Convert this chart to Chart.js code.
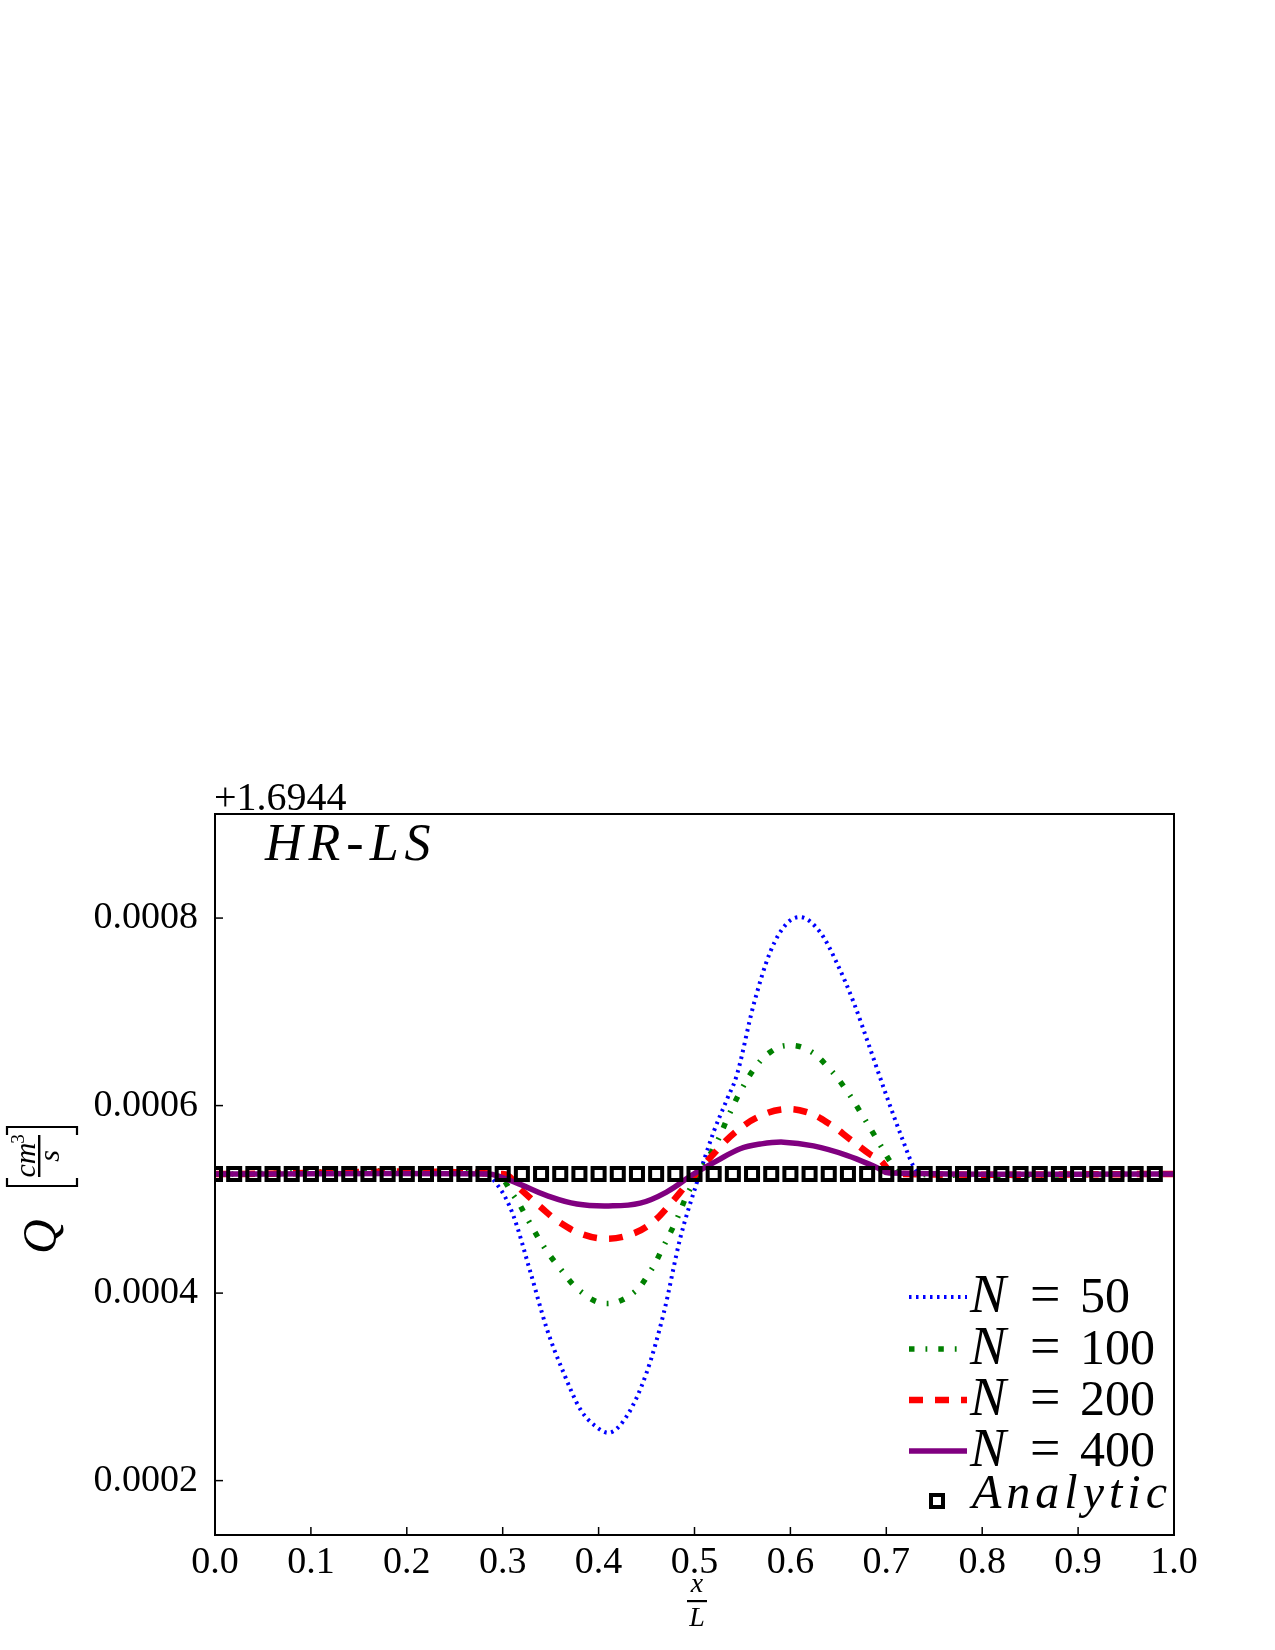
<!DOCTYPE html>
<html>
<head>
<meta charset="utf-8">
<script src="https://cdn.jsdelivr.net/npm/chart.js@4.4.1/dist/chart.umd.min.js"></script>
<style>
  html, body { margin: 0; padding: 0; background: #ffffff; }
  canvas { display: block; }
</style>
</head>
<body>
<canvas id="c" width="1275" height="1650"></canvas>
<script>
// ---------- data (Q values are offsets from +1.6944) ----------
const offsetText = '+1.6944';
const panelLabel = 'HR-LS';
const xTicks = [0.0, 0.1, 0.2, 0.3, 0.4, 0.5, 0.6, 0.7, 0.8, 0.9, 1.0];
const yTicks = [0.0002, 0.0004, 0.0006, 0.0008];
const yMin = 0.000142;
const yMax = 0.000911;

const seriesNames = ['50', '100', '200', '400'];
const analyticName = 'Analytic';

const n50X = [0.0, 0.28, 0.2975, 0.311, 0.329, 0.346, 0.3635, 0.381, 0.398, 0.41, 0.4295, 0.45, 0.468, 0.485, 0.5025, 0.52, 0.534, 0.544, 0.5615, 0.579, 0.596, 0.61, 0.631, 0.648, 0.666, 0.683, 0.70, 0.718, 0.728, 0.736, 1.0];
const n50Y = [0.000527, 0.000527, 0.000511, 0.000483, 0.000422, 0.000362, 0.000315, 0.000276, 0.000257, 0.000251, 0.000269, 0.000315, 0.000379, 0.000458, 0.000518, 0.000572, 0.000607, 0.000632, 0.000707, 0.000764, 0.000794, 0.000801, 0.000785, 0.000753, 0.000710, 0.000661, 0.000611, 0.000561, 0.000536, 0.000527, 0.000527];

const n100X = [0.0, 0.29, 0.3114, 0.327, 0.3426, 0.36, 0.381, 0.407, 0.4347, 0.4538, 0.4677, 0.4816, 0.4938, 0.5233, 0.5354, 0.5494, 0.565, 0.579, 0.596, 0.619, 0.641, 0.66, 0.676, 0.692, 0.707, 0.716, 1.0];
const n100Y = [0.000527, 0.000527, 0.000504, 0.000477, 0.000450, 0.000426, 0.000402, 0.000389, 0.000399, 0.000423, 0.000450, 0.000479, 0.000508, 0.000561, 0.000589, 0.000618, 0.000643, 0.000657, 0.000664, 0.000659, 0.000639, 0.000614, 0.000588, 0.000561, 0.000536, 0.000527, 0.000527];

const n200X = [0.0, 0.30, 0.3183, 0.3392, 0.36, 0.3826, 0.4087, 0.4347, 0.4556, 0.4747, 0.4921, 0.5268, 0.5442, 0.5667, 0.5928, 0.6172, 0.6414, 0.6623, 0.6831, 0.6935, 0.703, 0.712, 1.0];
const n200Y = [0.000527, 0.000527, 0.000511, 0.000492, 0.000475, 0.000463, 0.000458, 0.000463, 0.000475, 0.000495, 0.000516, 0.000556, 0.000573, 0.000588, 0.000596, 0.000593, 0.000580, 0.000564, 0.000548, 0.000542, 0.000531, 0.000527, 0.000527];

const n400X = [0.0, 0.285, 0.2975, 0.3183, 0.3461, 0.3774, 0.4104, 0.4434, 0.4712, 0.499, 0.5233, 0.5476, 0.5685, 0.5928, 0.624, 0.6588, 0.6901, 0.703, 1.0];
const n400Y = [0.000527, 0.000527, 0.000524, 0.000516, 0.000504, 0.000495, 0.000493, 0.000496, 0.000508, 0.000527, 0.000541, 0.000554, 0.000559, 0.000561, 0.000557, 0.000547, 0.000534, 0.000528, 0.000527];

const analyticX = [0.00, 0.02, 0.04, 0.06, 0.08, 0.10, 0.12, 0.14, 0.16, 0.18,
                   0.20, 0.22, 0.24, 0.26, 0.28, 0.30, 0.32, 0.34, 0.36, 0.38,
                   0.40, 0.42, 0.44, 0.46, 0.48, 0.50, 0.52, 0.54, 0.56, 0.58,
                   0.60, 0.62, 0.64, 0.66, 0.68, 0.70, 0.72, 0.74, 0.76, 0.78,
                   0.80, 0.82, 0.84, 0.86, 0.88, 0.90, 0.92, 0.94, 0.96, 0.98];
const analyticY = [0.000527, 0.000527, 0.000527, 0.000527, 0.000527, 0.000527, 0.000527, 0.000527, 0.000527, 0.000527,
                   0.000527, 0.000527, 0.000527, 0.000527, 0.000527, 0.000527, 0.000527, 0.000527, 0.000527, 0.000527,
                   0.000527, 0.000527, 0.000527, 0.000527, 0.000527, 0.000527, 0.000527, 0.000527, 0.000527, 0.000527,
                   0.000527, 0.000527, 0.000527, 0.000527, 0.000527, 0.000527, 0.000527, 0.000527, 0.000527, 0.000527,
                   0.000527, 0.000527, 0.000527, 0.000527, 0.000527, 0.000527, 0.000527, 0.000527, 0.000527, 0.000527];

// ---------- styling ----------
const FONT = '"Liberation Serif", "DejaVu Serif", serif';
const pts = (xs, ys) => xs.map((x, i) => ({ x: x, y: ys[i] }));

const lineStyles = [
  { color: '#0000ff', width: 4, dash: [2.5, 4.5], interp: 'monotone', tension: 0 },
  { color: '#008000', width: 5.5, dash: [5.5, 11, 1.8, 11], interp: 'default', tension: 0.4 },
  { color: '#ff0000', width: 6.5, dash: [14, 12], interp: 'default', tension: 0.4 },
  { color: '#800080', width: 5.5, dash: [], interp: 'default', tension: 0.4 }
];
const seriesX = [n50X, n100X, n200X, n400X];
const seriesY = [n50Y, n100Y, n200Y, n400Y];

const datasets = seriesNames.map((name, i) => ({
  label: 'N = ' + name,
  data: pts(seriesX[i], seriesY[i]),
  borderColor: lineStyles[i].color,
  backgroundColor: lineStyles[i].color,
  borderWidth: lineStyles[i].width,
  borderDash: lineStyles[i].dash,
  borderCapStyle: 'butt',
  borderJoinStyle: 'round',
  pointRadius: 0,
  pointHoverRadius: 0,
  cubicInterpolationMode: lineStyles[i].interp,
  tension: lineStyles[i].tension,
  fill: false,
  order: 5 - i
}));
datasets.push({
  label: analyticName,
  data: pts(analyticX, analyticY),
  showLine: false,
  pointStyle: 'rect',
  pointRadius: 8.5,
  pointHoverRadius: 8.5,
  pointBorderWidth: 4,
  pointBorderColor: '#000000',
  pointBackgroundColor: 'rgba(0,0,0,0)',
  borderColor: '#000000',
  backgroundColor: 'rgba(0,0,0,0)',
  order: 1
});

const decorPlugin = {
  id: 'decor',
  afterDraw(chart) {
    const ctx = chart.ctx;
    const a = chart.chartArea;
    const xs = chart.scales.x, ys = chart.scales.y;
    ctx.save();
    ctx.strokeStyle = '#000';
    ctx.fillStyle = '#000';
    // frame
    ctx.lineWidth = 2;
    ctx.strokeRect(a.left, a.top, a.right - a.left, a.bottom - a.top);
    // inward ticks
    ctx.lineWidth = 1.5;
    xs.ticks.forEach(t => {
      const p = xs.getPixelForValue(t.value);
      ctx.beginPath(); ctx.moveTo(p, a.bottom); ctx.lineTo(p, a.bottom - 8); ctx.stroke();
    });
    ys.ticks.forEach(t => {
      const p = ys.getPixelForValue(t.value);
      ctx.beginPath(); ctx.moveTo(a.left, p); ctx.lineTo(a.left + 8, p); ctx.stroke();
    });

    // offset text
    ctx.textAlign = 'left';
    ctx.textBaseline = 'alphabetic';
    ctx.font = '40px ' + FONT;
    ctx.fillText(offsetText, a.left - 1, 810);

    // panel label
    ctx.font = 'italic 52px ' + FONT;
    ctx.letterSpacing = '6px';
    ctx.fillText(panelLabel, 265, 860);
    ctx.letterSpacing = '0px';

    // x axis title: x / L
    ctx.textAlign = 'center';
    ctx.font = 'italic 28px ' + FONT;
    ctx.fillText('x', 697, 1592);
    ctx.fillRect(687, 1600, 20, 2.2);
    ctx.fillText('L', 697, 1626);

    // y axis title: Q [cm^3 / s]
    ctx.save();
    ctx.translate(42, 1256);
    ctx.rotate(-Math.PI / 2);
    ctx.textAlign = 'left';
    ctx.font = 'italic 48px ' + FONT;
    ctx.fillText('Q', 2, 14);
    ctx.lineWidth = 2.2;
    ctx.beginPath(); ctx.moveTo(78, -35); ctx.lineTo(70, -35); ctx.lineTo(70, 35); ctx.lineTo(78, 35); ctx.stroke();
    ctx.beginPath(); ctx.moveTo(121, -35); ctx.lineTo(129, -35); ctx.lineTo(129, 35); ctx.lineTo(121, 35); ctx.stroke();
    ctx.fillRect(79, -4, 42, 2.4);
    ctx.textAlign = 'center';
    ctx.font = 'italic 30px ' + FONT;
    ctx.fillText('cm', 96, -7);
    ctx.font = '19px ' + FONT;
    ctx.fillText('3', 117, -18);
    ctx.font = 'italic 30px ' + FONT;
    ctx.fillText('s', 100, 17);
    ctx.restore();

    // legend
    const rowY = [1297, 1349, 1400, 1451];
    const x0 = 909, x1 = 967;
    chart.data.datasets.forEach((ds, i) => {
      if (i >= seriesNames.length) return;
      const y = rowY[i];
      ctx.save();
      ctx.strokeStyle = ds.borderColor;
      ctx.lineWidth = ds.borderWidth;
      ctx.setLineDash(ds.borderDash || []);
      ctx.lineCap = 'butt';
      ctx.beginPath(); ctx.moveTo(x0, y); ctx.lineTo(x1, y); ctx.stroke();
      ctx.restore();
      ctx.textAlign = 'left';
      ctx.font = 'italic 54px ' + FONT;
      ctx.fillText('N', 970, y + 15);
      ctx.font = '54px ' + FONT;
      ctx.fillText('=', 1030, y + 15);
      ctx.font = '50px ' + FONT;
      ctx.fillText(seriesNames[i], 1080, y + 15);
    });
    // analytic legend entry
    ctx.save();
    ctx.strokeStyle = '#000';
    ctx.lineWidth = 4;
    ctx.strokeRect(937 - 6, 1501 - 6, 12, 12);
    ctx.restore();
    ctx.textAlign = 'left';
    ctx.font = 'italic 48px ' + FONT;
    ctx.letterSpacing = '5px';
    ctx.fillText(analyticName, 972, 1508);
    ctx.letterSpacing = '0px';
    ctx.restore();
  }
};

new Chart(document.getElementById('c').getContext('2d'), {
  type: 'line',
  data: { datasets: datasets },
  options: {
    responsive: false,
    animation: false,
    devicePixelRatio: 1,
    layout: { padding: { top: 814, right: 101, left: 0, bottom: 0 } },
    plugins: { legend: { display: false }, tooltip: { enabled: false } },
    scales: {
      x: {
        type: 'linear',
        min: 0, max: 1,
        afterBuildTicks: s => { s.ticks = xTicks.map(v => ({ value: v })); },
        afterFit: s => { s.height = 115; },
        grid: { display: false },
        border: { display: false },
        ticks: {
          padding: -3, autoSkip: false, maxRotation: 0, minRotation: 0,
          color: '#000', font: { family: FONT, size: 38 },
          callback: v => Number(v).toFixed(1)
        }
      },
      y: {
        type: 'linear',
        min: yMin, max: yMax,
        afterBuildTicks: s => { s.ticks = yTicks.map(v => ({ value: v })); },
        afterFit: s => { s.width = 215; },
        grid: { display: false },
        border: { display: false },
        ticks: {
          padding: 9, autoSkip: false,
          color: '#000', font: { family: FONT, size: 38 },
          callback: v => Number(v).toFixed(4)
        }
      }
    }
  },
  plugins: [decorPlugin]
});
</script>
</body>
</html>
